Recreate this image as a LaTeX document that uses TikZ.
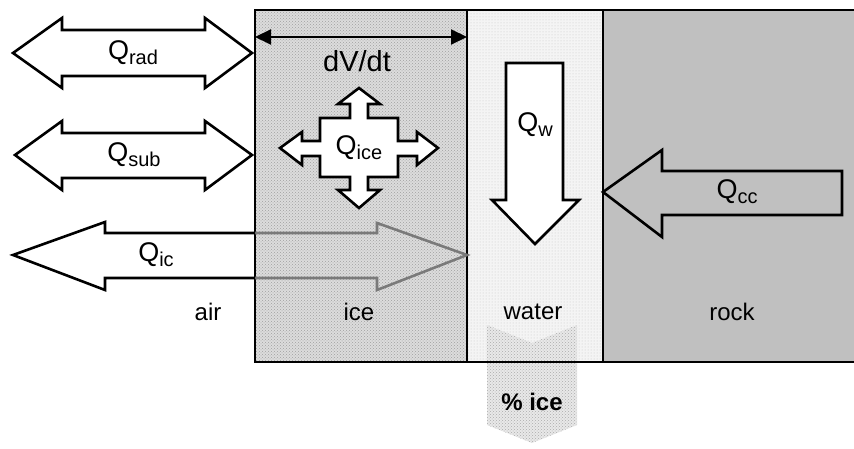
\documentclass[tikz,border=0pt]{standalone}
\usepackage{fontspec}
\setmainfont{Liberation Sans}
\usetikzlibrary{arrows.meta,patterns}
\definecolor{rockgray}{HTML}{C0C0C0}
\definecolor{icegray}{HTML}{DCDCDC}
\definecolor{watergray}{HTML}{F4F4F4}
\definecolor{icarrow}{HTML}{7A7A7A}
\newcommand{\Qlab}[1]{Q\raisebox{-4.5pt}{\fontsize{20}{20}\selectfont #1}}
\tikzset{
  blockarrow/.style={draw=black, line width=2.6pt, line join=miter, fill=white},
  zoneline/.style={draw=black, line width=2pt},
  lbl/.style={font=\fontsize{24}{28}\selectfont, inner sep=0pt},
  qlbl/.style={font=\fontsize{27}{32}\selectfont, inner sep=0pt},
}
\begin{document}
\begin{tikzpicture}[x=1pt,y=-1pt]
\useasboundingbox (0,0) rectangle (854,449);
% zones
\coordinate (iceTL) at (255,10);
\coordinate (iceTR) at (467,10);
\coordinate (watTR) at (603,10);
\fill[icegray] (255,10) rectangle (467,362);
\fill[pattern=crosshatch dots, pattern color=gray!75] (255,10) rectangle (467,362);
\fill[watergray] (467,10) rectangle (603,362);
\fill[pattern=dots, pattern color=gray!45] (467,10) rectangle (603,362);
\fill[rockgray] (603,10) rectangle (854,362);
% % ice chevron
\fill[gray!18] (487,325) -- (532,343) -- (577,325) -- (577,425) -- (532,443) -- (487,425) -- cycle;
\fill[pattern=crosshatch dots, pattern color=gray!65] (487,325) -- (532,343) -- (577,325) -- (577,425) -- (532,443) -- (487,425) -- cycle;
\node[font=\bfseries\fontsize{24}{28}\selectfont, inner sep=0pt] (pice) at (532,402) {\% ice};
% zone borders
\draw[zoneline] (854,10) -- (255,10) -- (255,362) -- (854,362);
\draw[zoneline] (467,10) -- (467,362);
\draw[zoneline] (603,10) -- (603,362);
% dV/dt
\coordinate (dvL) at (255,37);
\coordinate (dvR) at (467,37);
\draw[line width=2pt, {Triangle[length=16pt,width=15pt]}-{Triangle[length=16pt,width=15pt]}] (dvL) -- (dvR);
\node[font=\fontsize{29}{34}\selectfont, inner sep=0pt] (dvdt) at (357,61) {dV/dt};
% Q_rad
\draw[blockarrow] (13,53) -- (62,18) -- (62,30) -- (205,30) -- (205,18) -- (252,53) -- (205,88) -- (205,76) -- (62,76) -- (62,88) -- cycle;
\node[qlbl] (qrad) at (133,53) {\Qlab{rad}};
% Q_sub
\draw[blockarrow] (15,155) -- (62,121) -- (62,133) -- (205,133) -- (205,121) -- (252,155) -- (205,190) -- (205,178) -- (62,178) -- (62,190) -- cycle;
\node[qlbl] (qsub) at (134,155) {\Qlab{sub}};
% Q_ic
\draw[line width=2.6pt, draw=icarrow, line join=miter] (255,233) -- (377,233) -- (377,223) -- (467,255) -- (377,290) -- (377,278) -- (255,278);
\draw[line width=2.6pt, line join=miter] (255,233) -- (105,233) -- (105,222) -- (13,255) -- (105,290) -- (105,278) -- (255,278);
\node[qlbl] (qic) at (156,255) {\Qlab{ic}};
% Q_ice cross
\draw[blockarrow] (359,88) -- (380,104) -- (368,104) -- (368,118) -- (398,118) -- (398,141) -- (417,141) -- (417,132) -- (438,148) -- (417,165) -- (417,156) -- (398,156) -- (398,177) -- (368,177) -- (368,190) -- (380,190) -- (359,208) -- (338,190) -- (350,190) -- (350,177) -- (320,177) -- (320,156) -- (302,156) -- (302,165) -- (280,148) -- (302,132) -- (302,141) -- (320,141) -- (320,118) -- (350,118) -- (350,104) -- (338,104) -- cycle;
\node[qlbl] (qice) at (359,148) {\Qlab{ice}};
% Q_w
\draw[blockarrow] (506,63) -- (563,63) -- (563,200) -- (579,200) -- (535,244) -- (492,200) -- (506,200) -- cycle;
\node[qlbl] (qw) at (535,125) {\Qlab{w}};
% Q_cc
\draw[blockarrow, fill=rockgray] (603,192) -- (662,150) -- (662,171) -- (842,171) -- (842,215) -- (662,215) -- (662,237) -- cycle;
\node[qlbl] (qcc) at (737,192) {\Qlab{cc}};
% zone labels
\node[lbl] (air) at (208,312) {air};
\node[lbl] (icel) at (359,312) {ice};
\node[lbl] (water) at (533,312) {water};
\node[lbl] (rock) at (732,312) {rock};
\end{tikzpicture}
\end{document}
